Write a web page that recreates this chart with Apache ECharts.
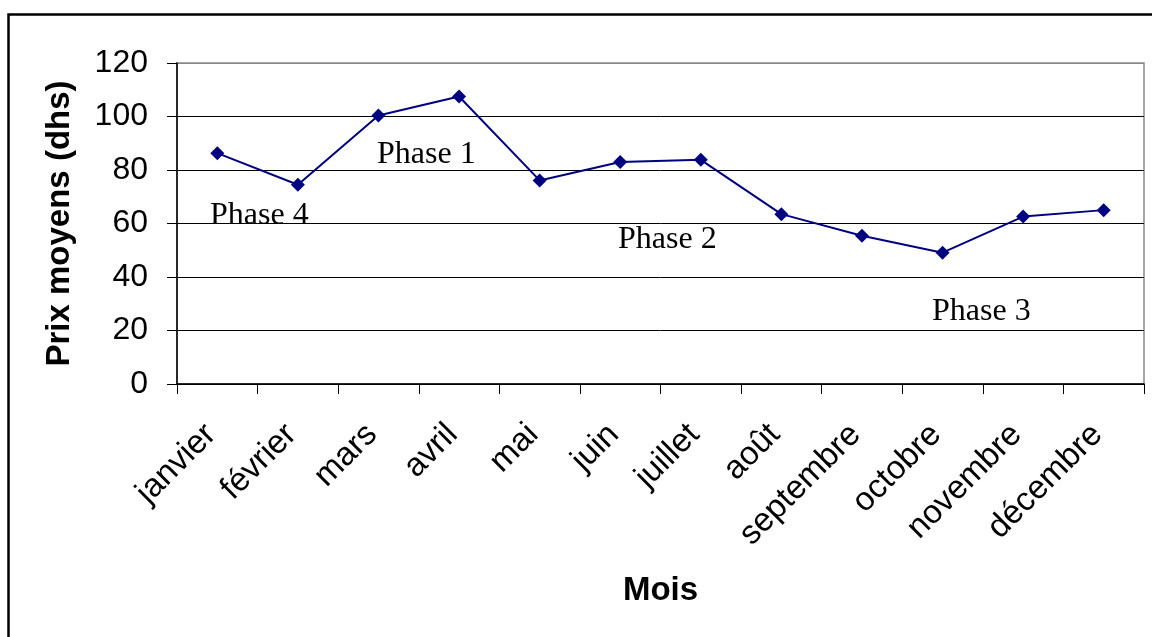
<!DOCTYPE html>
<html>
<head>
<meta charset="utf-8">
<script src="https://cdn.jsdelivr.net/npm/echarts@6/dist/echarts.min.js"></script>
<style>
html,body{margin:0;padding:0;background:#fff;}
#chart{width:1152px;height:637px;}
</style>
</head>
<body>
<div id="chart"></div>
<script>
const months = ['janvier','février','mars','avril','mai','juin','juillet','août','septembre','octobre','novembre','décembre'];
const prix = [86.3, 74.5, 100.4, 107.5, 76.1, 83.0, 83.8, 63.5, 55.4, 49.1, 62.6, 65.0];
const yTicks = [0, 20, 40, 60, 80, 100, 120];
const phaseLabels = ['Phase 4', 'Phase 1', 'Phase 2', 'Phase 3'];

const chart = echarts.init(document.getElementById('chart'), null, {renderer: 'canvas'});
const sans = '"Liberation Sans", Arial, sans-serif';
const serif = '"Liberation Serif", "Times New Roman", serif';

const phasePos = [[210, 215.5], [377, 155], [618, 239.5], [932, 311.5]];

chart.setOption({
  animation: false,
  backgroundColor: '#fff',
  grid: {left: 177, right: 8, top: 63, bottom: 253, show: true, borderColor: '#888', borderWidth: 1.5, containLabel: false},
  xAxis: {
    type: 'category',
    data: months,
    boundaryGap: true,
    name: 'Mois',
    nameLocation: 'middle',
    nameGap: 190,
    nameTextStyle: {fontFamily: sans, fontSize: 33, fontWeight: 'bold', color: '#000'},
    axisLine: {lineStyle: {color: '#000', width: 1.5}},
    axisTick: {show: true, length: 10, interval: 0, alignWithLabel: false, lineStyle: {color: '#000', width: 1}},
    axisLabel: {rotate: 45, interval: 0, margin: 39, formatter: v => v + ' ', fontFamily: sans, fontSize: 33, color: '#000'},
    splitLine: {show: false}
  },
  yAxis: {
    type: 'value',
    min: yTicks[0],
    max: yTicks[yTicks.length - 1],
    interval: yTicks[1] - yTicks[0],
    name: 'Prix moyens (dhs)',
    nameLocation: 'middle',
    nameGap: 101,
    nameTextStyle: {fontFamily: sans, fontSize: 33, fontWeight: 'bold', color: '#000'},
    axisLine: {show: true, lineStyle: {color: '#000', width: 1.5}},
    axisTick: {show: true, length: 10, lineStyle: {color: '#000', width: 1}},
    axisLabel: {margin: 29, fontFamily: sans, fontSize: 32, color: '#000'},
    splitLine: {show: true, lineStyle: {color: ['#000','#000','#000','#000','#000','#000','#888'], width: 1}}
  },
  series: [{
    type: 'line',
    data: prix,
    symbol: 'diamond',
    symbolSize: 14,
    lineStyle: {color: '#000080', width: 2},
    itemStyle: {color: '#000080'},
    z: 5
  }],
  graphic: [
    {type: 'rect', shape: {x: 8.5, y: 14.5, width: 1300, height: 800}, style: {fill: 'none', stroke: '#000', lineWidth: 2.5}, silent: true}
  ].concat(phaseLabels.map((t, i) => ({
    type: 'text', x: phasePos[i][0], y: phasePos[i][1], z: 10,
    style: {text: t, font: '32px ' + serif, fill: '#000', textAlign: 'left', textVerticalAlign: 'middle'}
  })))
});
</script>
</body>
</html>
